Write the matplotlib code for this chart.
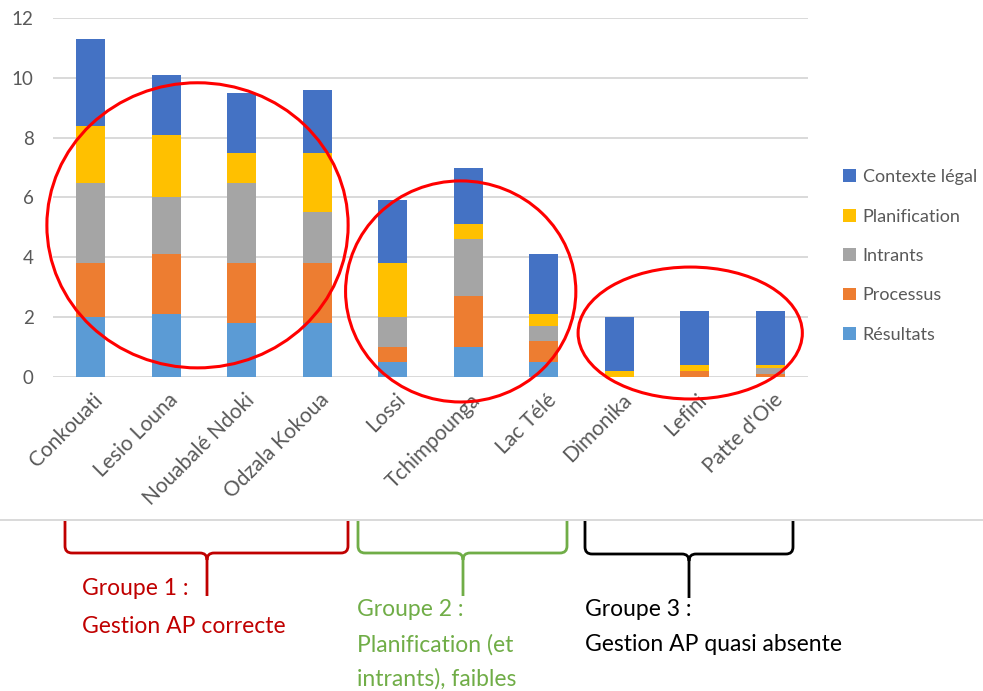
import numpy as np
import matplotlib
matplotlib.use('Agg')
import matplotlib.pyplot as plt
from matplotlib.patches import Ellipse, PathPatch
from matplotlib.path import Path
from matplotlib.transforms import Affine2D, ScaledTranslation

plt.rcParams['font.family'] = ['Lato', 'DejaVu Sans']

sites = ['Conkouati', 'Lesio Louna', 'Nouabalé Ndoki', 'Odzala Kokoua', 'Lossi',
         'Tchimpounga', 'Lac Télé', 'Dimonika', 'Lefini', "Patte d'Oie"]

# stacked from the bottom up
resultats     = [2.0, 2.1, 1.8, 1.8, 0.5, 1.0, 0.5, 0.0, 0.0, 0.0]
processus     = [1.8, 2.0, 2.0, 2.0, 0.5, 1.7, 0.7, 0.0, 0.2, 0.1]
intrants      = [2.7, 1.9, 2.7, 1.7, 1.0, 1.9, 0.5, 0.0, 0.0, 0.2]
planification = [1.9, 2.1, 1.0, 2.0, 1.8, 0.5, 0.4, 0.2, 0.2, 0.1]
contexte      = [2.9, 2.0, 2.0, 2.1, 2.1, 1.9, 2.0, 1.8, 1.8, 1.8]

series = [('Résultats', resultats, '#5B9BD5'),
          ('Processus', processus, '#ED7D31'),
          ('Intrants', intrants, '#A5A5A5'),
          ('Planification', planification, '#FFC000'),
          ('Contexte légal', contexte, '#4472C4')]

W, H = 983, 691
fig = plt.figure(figsize=(W / 100, H / 100), dpi=100)
ax = fig.add_axes([53 / W, 1 - 377 / H, 755 / W, 359 / H])

x = np.arange(len(sites))
bottom = np.zeros(len(sites))
handles = []
for name, vals, col in series:
    vals = np.array(vals)
    b = ax.bar(x, vals, 0.39, bottom=bottom, color=col, label=name, zorder=3)
    handles.append(b)
    bottom += vals

ax.set_xlim(-0.5, len(sites) - 0.5)
ax.set_ylim(0, 12)
ax.set_yticks(range(0, 13, 2))
ax.grid(axis='y', color='#D9D9D9', lw=1.4, zorder=0)
for s in ['top', 'right', 'left', 'bottom']:
    ax.spines[s].set_visible(False)
ax.tick_params(axis='both', length=0, colors='#595959', labelsize=13.5)
ax.tick_params(axis='y', pad=14)
ax.set_xticks(x)
ax.set_xticklabels(sites, rotation=45, ha='right', rotation_mode='anchor', fontsize=15)
for lab in ax.get_xticklabels():
    lab.set_transform(lab.get_transform() + ScaledTranslation(2 / 100, -8 / 100, fig.dpi_scale_trans))

# red circles around the three groups
circles = [(1.414, 5.07, 3.99, 9.53), (4.90, 2.86, 3.05, 7.39), (7.94, 1.47, 2.97, 4.41)]
for cx, cy, w, h in circles:
    ax.add_patch(Ellipse((cx, cy), w, h, fill=False, ec='#FF0000', lw=2.2,
                         clip_on=False, zorder=5))

fig.legend(handles[::-1], [s[0] for s in series][::-1], loc='center left',
           bbox_to_anchor=(843 / W, 1 - 256 / H), frameon=False, fontsize=13,
           handlelength=0.7, handleheight=0.7, handletextpad=0.4,
           labelspacing=1.3, borderpad=0, borderaxespad=0, labelcolor='#595959')

# pixel coordinates (y down) for the lower annotation area
px = Affine2D().scale(1 / W, -1 / H).translate(0, 1) + fig.transFigure

fig.add_artist(plt.Line2D([0, W], [520, 520], color='#D9D9D9', lw=1.4, transform=px))


def bracket(x0, x1, xc, top, mid, tip, color):
    r = 7
    verts = [(x0, top), (x0, mid - r), (x0, mid), (x0 + r, mid),
             (xc - r, mid), (xc, mid), (xc, mid + r), (xc, tip),
             (xc, mid + r), (xc, mid), (xc + r, mid),
             (x1 - r, mid), (x1, mid), (x1, mid - r), (x1, top)]
    codes = [Path.MOVETO, Path.LINETO, Path.CURVE3, Path.CURVE3,
             Path.LINETO, Path.CURVE3, Path.CURVE3, Path.LINETO,
             Path.MOVETO, Path.CURVE3, Path.CURVE3,
             Path.LINETO, Path.CURVE3, Path.CURVE3, Path.LINETO]
    fig.add_artist(PathPatch(Path(verts, codes), fill=False, ec=color, lw=2,
                             transform=px))


bracket(65, 348, 207, 521, 553, 596, '#C00000')
bracket(358, 567, 463, 521, 553, 596, '#70AD47')
bracket(585, 793, 689, 521, 554, 598, '#000000')

group_text = [(82, 589, 'Groupe 1 :', '#C00000'),
              (82, 627, 'Gestion AP correcte', '#C00000'),
              (357, 610, 'Groupe 2 :', '#70AD47'),
              (357, 645, 'Planification (et', '#70AD47'),
              (357, 679, 'intrants), faibles', '#70AD47'),
              (585, 610, 'Groupe 3 :', '#000000'),
              (585, 645, 'Gestion AP quasi absente', '#000000')]
for tx, ty, txt, col in group_text:
    fig.text(tx, ty, txt, color=col, fontsize=16.5, ha='left', va='center', transform=px)

fig.savefig('out.png', dpi=100)
